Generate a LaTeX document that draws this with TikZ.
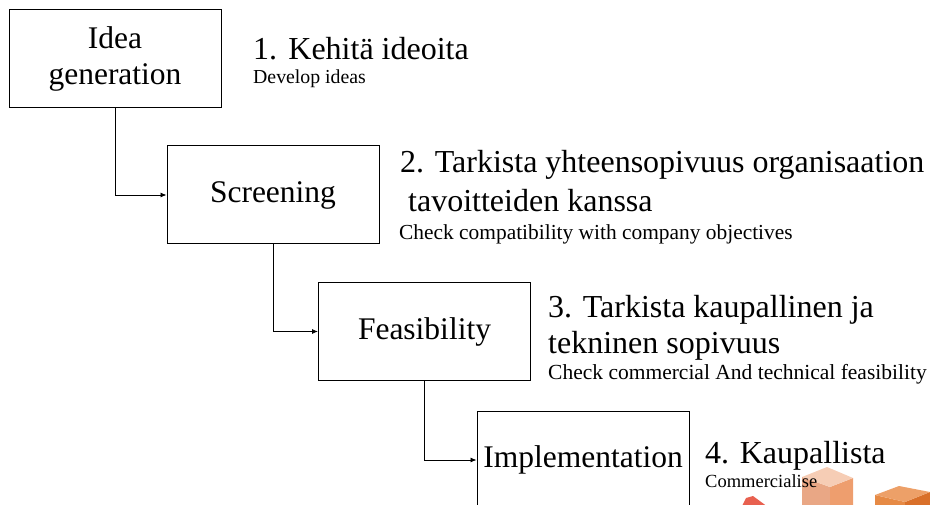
\documentclass[tikz,border=0pt]{standalone}
\usepackage{fontspec}
\setmainfont{Liberation Serif}
\usetikzlibrary{arrows.meta}
\definecolor{cubeAtop}{HTML}{F6CDB5}
\definecolor{cubeAleft}{HTML}{E9A785}
\definecolor{cubeAright}{HTML}{EE9E6E}
\definecolor{cubeBtop}{HTML}{EDA068}
\definecolor{cubeBleft}{HTML}{E68A45}
\definecolor{cubeBright}{HTML}{D9702A}
\definecolor{wedge}{HTML}{E8604F}
\tikzset{
  stagebox/.style={draw=black, line width=1pt, minimum width=212pt, minimum height=98pt,
    inner sep=0pt, align=center, font=\fontsize{31.5}{36}\selectfont},
  bigtxt/.style={anchor=base west, inner sep=0pt, font=\fontsize{32}{36}\selectfont},
  smalltxt/.style={anchor=base west, inner sep=0pt},
  flow/.style={line width=0.8pt, -{Latex[length=6pt,width=5pt]}}
}
\begin{document}
\begin{tikzpicture}[x=1pt, y=-1pt]
\useasboundingbox (0,0) rectangle (930,505);
% decorative cubes (bottom right)
\fill[wedge] (740,510) -- (746,498) -- (753,496) -- (772,510) -- cycle;
\fill[cubeAleft] (802,477) -- (830,487) -- (830,510) -- (802,510) -- cycle;
\fill[cubeAright] (830,487) -- (853,478) -- (853,510) -- (830,510) -- cycle;
\fill[cubeAtop] (827,467) -- (853,478) -- (830,487) -- (802,477) -- cycle;
\fill[cubeBleft] (875,495) -- (905,502) -- (905,510) -- (875,510) -- cycle;
\fill[cubeBright] (905,502) -- (930,492) -- (930,510) -- (905,510) -- cycle;
\fill[cubeBtop] (899,486) -- (930,492) -- (905,502) -- (875,495) -- cycle;
% stage boxes
\node[stagebox] (b1) at (115,59) {Idea\\generation};
\node[stagebox] (b2) at (273,195) {Screening};
\node[stagebox] (b3) at (424.5,331.5) {Feasibility};
\node[stagebox] (b4) at (583,460) {Implementation};
% connectors
\draw[flow] (b1.south) |- (b2.west);
\draw[flow] (b2.south) |- (b3.west);
\draw[flow] (b3.south) |- (b4.west);
% descriptions
\node[bigtxt] (t1) at (253,60) {1.\hspace{0.35em}Kehitä ideoita};
\node[smalltxt, font=\fontsize{19.8}{22}\selectfont] (s1) at (253,84) {Develop ideas};
\node[bigtxt] (t2a) at (400,173) {2. Tarkista yhteensopivuus organisaation};
\node[bigtxt] (t2b) at (400,212) {\ tavoitteiden kanssa};
\node[smalltxt, font=\fontsize{21.4}{24}\selectfont] (s2) at (399,240) {Check compatibility with company objectives};
\node[bigtxt] (t3a) at (548,318) {3. Tarkista kaupallinen ja};
\node[bigtxt] (t3b) at (548,353) {tekninen sopivuus};
\node[smalltxt, font=\fontsize{21.5}{24}\selectfont] (s3) at (548,380) {Check commercial And technical feasibility};
\node[bigtxt] (t4) at (705,463) {4. Kaupallista};
\node[smalltxt, font=\fontsize{18.5}{21}\selectfont] (s4) at (705,487) {Commercialise};
\end{tikzpicture}
\end{document}
